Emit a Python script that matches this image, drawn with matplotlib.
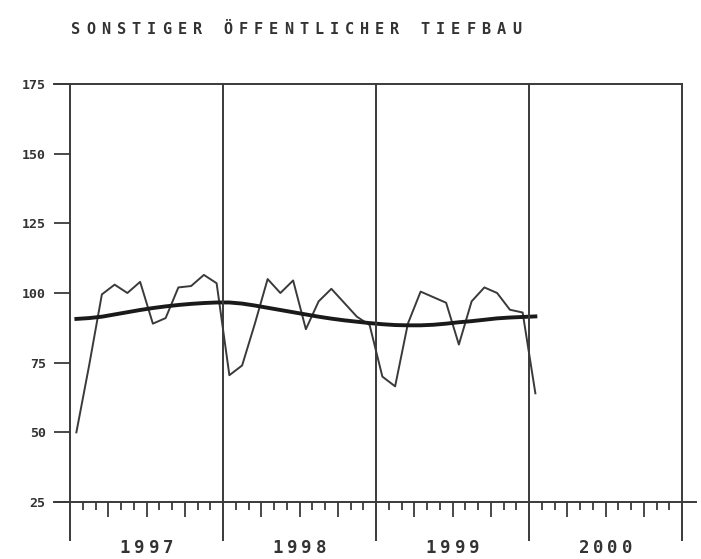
import numpy as np
import matplotlib.pyplot as plt

# Monatswerte Jan 1997 .. Jan 2000
werte = [50, 74, 99.5, 103, 100, 104, 89, 91, 102, 102.5, 106.5, 103.5,
         70.5, 74, 89, 105, 100, 104.5, 87, 97, 101.5, 96.5, 91.5, 88.5,
         70, 66.5, 89, 100.5, 98.5, 96.5, 81.5, 97, 102, 100, 94, 93,
         64]
trend = [90.7, 91.0, 91.5, 92.3, 93.1, 93.9, 94.6, 95.2, 95.7, 96.1, 96.4, 96.6,
         96.6, 96.2, 95.5, 94.7, 93.9, 93.1, 92.3, 91.5, 90.8, 90.2, 89.7, 89.2,
         88.8, 88.5, 88.4, 88.4, 88.6, 89.0, 89.5, 89.9, 90.4, 90.9, 91.2, 91.4,
         91.6]
jahre = ["1997", "1998", "1999", "2000"]
y_ticks = [25, 50, 75, 100, 125, 150, 175]
titel = "SONSTIGER ÖFFENTLICHER TIEFBAU"

W, H = 701, 559
fig = plt.figure(figsize=(W / 100, H / 100), dpi=100)
L, R, T, B = 70, 682, 84, 502
ax = fig.add_axes([L / W, (H - B) / H, (R - L) / W, (B - T) / H])

farbe = "#3a3a3a"
x = np.arange(len(werte)) + 0.5
ax.plot(x, werte, color=farbe, lw=1.4)
ax.plot(x, trend, color="#1a1a1a", lw=2.8)

ax.set_xlim(0, 12 * len(jahre))
ax.set_ylim(25, 175)
for s in ax.spines.values():
    s.set_visible(False)

# Jahreslinien (bis unter die Achse)
unten = -(540 - B) / (B - T)
for i in range(len(jahre) + 1):
    ax.axvline(12 * i, ymin=unten, ymax=1, color=farbe, lw=1.4, clip_on=False)
# obere und untere Linie
ax.plot([(54 - L) / (R - L), 1], [1, 1], transform=ax.transAxes,
        color=farbe, lw=1.4, clip_on=False)
ax.plot([(54 - L) / (R - L), (696 - L) / (R - L)], [0, 0], transform=ax.transAxes,
        color=farbe, lw=1.4, clip_on=False)

# Monatsstriche
monate = np.arange(1, 12 * len(jahre))
lang = [m for m in monate if m % 3 == 0 and m % 12 != 0]
kurz = [m for m in monate if m % 3 != 0]
ax.set_xticks(lang)
ax.set_xticks(kurz, minor=True)
ax.tick_params(axis="x", which="major", direction="out", length=11, width=1.3,
               color=farbe, labelbottom=False)
ax.tick_params(axis="x", which="minor", direction="out", length=6, width=1.3,
               color=farbe)

ax.set_yticks(y_ticks)
ax.set_yticklabels([str(v) for v in y_ticks])
ax.tick_params(axis="y", direction="out", length=11.5, width=1.3, color=farbe,
               pad=6, labelsize=9.5, labelcolor="#333333")
for lab in ax.get_yticklabels():
    lab.set_fontfamily("DejaVu Sans Mono")
    lab.set_fontweight("bold")


def gesperrt(xc, yc, text, step, size):
    # Plotter-Schrift: Zeichen einzeln mit festem Abstand
    n = len(text)
    for i, ch in enumerate(text):
        xp = xc + (i - (n - 1) / 2) * step
        fig.text(xp / W, 1 - yc / H, ch, ha="center", va="center",
                 fontsize=size, fontfamily="DejaVu Sans Mono",
                 fontweight="bold", color="#333333")


gesperrt(296, 29, titel, 15.2, 11)
for i, j in enumerate(jahre):
    gesperrt(L + (R - L) / len(jahre) * (i + 0.5), 548, j, 14.5, 12.5)

fig.savefig("out.png", dpi=100)
